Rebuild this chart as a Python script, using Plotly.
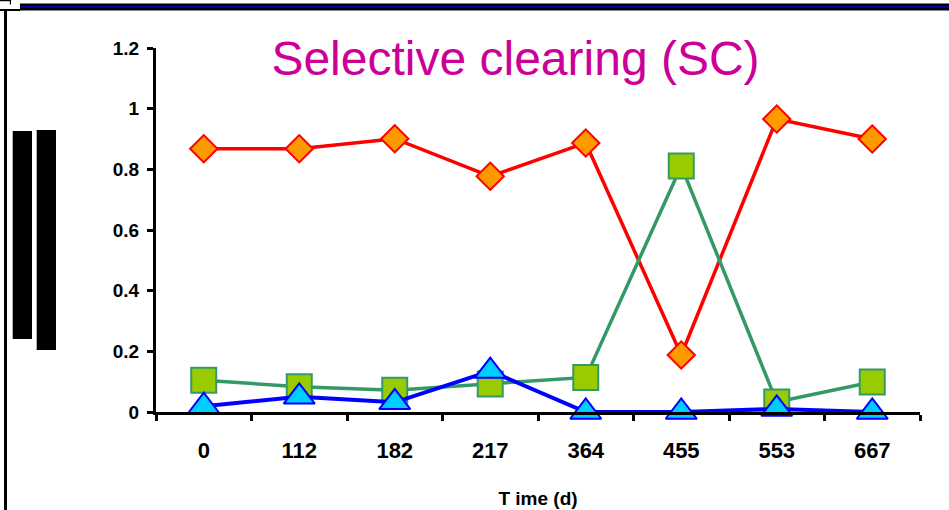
import plotly.graph_objects as go

# ---- data ----
categories = ["0", "112", "182", "217", "364", "455", "553", "667"]
series_red = [0.868, 0.868, 0.901, 0.777, 0.887, 0.188, 0.966, 0.900]
series_green = [0.105, 0.083, 0.072, 0.092, 0.114, 0.811, 0.033, 0.099]
series_blue = [0.019, 0.050, 0.032, 0.135, 0.0, 0.0, 0.010, 0.0]
y_ticks = [0, 0.2, 0.4, 0.6, 0.8, 1, 1.2]
title_text = "Selective clearing (SC)"
x_title = "T ime (d)"

W, H = 949, 510
ML, MR, MT, MB = 156, 29, 48, 98
PW, PH = W - ML - MR, H - MT - MB


def px(x):
    return (x - ML) / PW


def py(y):
    return (H - MB - y) / PH


fig = go.Figure()
fig.add_trace(go.Scatter(
    x=categories, y=series_red, mode="lines+markers", cliponaxis=False,
    line=dict(color="#FF0000", width=3.5),
    marker=dict(symbol="diamond", size=21, color="#FF9900",
                line=dict(color="#FF0000", width=2)),
    showlegend=False))
fig.add_trace(go.Scatter(
    x=categories, y=series_green, mode="lines+markers", cliponaxis=False,
    line=dict(color="#339966", width=3.5),
    marker=dict(symbol="square", size=25, color="#99CC00",
                line=dict(color="#339966", width=2)),
    showlegend=False))
fig.add_trace(go.Scatter(
    x=categories, y=series_blue, mode="lines+markers", cliponaxis=False,
    line=dict(color="#0000FF", width=4),
    marker=dict(symbol="triangle-up", size=27, color="#00CCFF",
                line=dict(color="#0000FF", width=2)),
    showlegend=False))

shapes = []
# frame pieces
shapes.append(dict(type="rect", xref="paper", yref="paper",
                   x0=px(20), x1=px(949), y0=py(3.5), y1=py(10.5),
                   fillcolor="black", line=dict(width=0), layer="above"))
shapes.append(dict(type="rect", xref="paper", yref="paper",
                   x0=px(21), x1=px(949), y0=py(5.5), y1=py(8),
                   fillcolor="#0000AA", line=dict(width=0), layer="above"))
shapes.append(dict(type="rect", xref="paper", yref="paper",
                   x0=px(0), x1=px(20), y0=py(9), y1=py(11),
                   fillcolor="black", line=dict(width=0), layer="above"))
shapes.append(dict(type="rect", xref="paper", yref="paper",
                   x0=px(4), x1=px(7), y0=py(10), y1=py(510),
                   fillcolor="black", line=dict(width=0), layer="above"))
shapes.append(dict(type="rect", xref="paper", yref="paper",
                   x0=px(0), x1=px(10), y0=py(0), y1=py(1.2),
                   fillcolor="black", line=dict(width=0), layer="above"))
shapes.append(dict(type="rect", xref="paper", yref="paper",
                   x0=px(9.8), x1=px(11), y0=py(0), y1=py(4.5),
                   fillcolor="black", line=dict(width=0), layer="above"))
# black blocks at left (obscured y-axis label)
shapes.append(dict(type="rect", xref="paper", yref="paper",
                   x0=px(12.7), x1=px(32), y0=py(131), y1=py(339),
                   fillcolor="black", line=dict(width=0), layer="above"))
shapes.append(dict(type="rect", xref="paper", yref="paper",
                   x0=px(36.7), x1=px(56), y0=py(130), y1=py(350),
                   fillcolor="black", line=dict(width=0), layer="above"))

fig.update_layout(
    width=W, height=H,
    margin=dict(l=ML, r=MR, t=MT, b=MB, autoexpand=False),
    paper_bgcolor="white", plot_bgcolor="white",
    font=dict(family="Liberation Sans, Arial, sans-serif", color="black"),
    title=dict(text=title_text, xref="paper", yref="paper",
               x=px(515.5), y=py(58), xanchor="center", yanchor="middle",
               font=dict(size=48, color="#CC0099",
                         family="Liberation Sans, Arial, sans-serif")),
    shapes=shapes,
    xaxis=dict(
        type="category", range=[-0.5, 7.5], automargin=False,
        showgrid=False, zeroline=False,
        showline=True, linecolor="black", linewidth=3,
        ticks="outside", ticklen=6, tickwidth=3, tickcolor="black",
        tickson="boundaries",
        ticklabelstandoff=17,
        tickfont=dict(size=22, family="Liberation Sans, Arial, sans-serif",
                      weight="bold", color="black"),
        title=dict(text=x_title, standoff=30,
                   font=dict(size=19, family="Liberation Sans, Arial, sans-serif",
                             weight="bold", color="black")),
    ),
    yaxis=dict(
        range=[0, 1.2], tickvals=y_ticks, automargin=False,
        showgrid=False, zeroline=False,
        showline=True, linecolor="black", linewidth=3,
        ticks="outside", ticklen=6, tickwidth=3, tickcolor="black",
        ticklabelstandoff=4,
        tickfont=dict(size=19, family="Liberation Sans, Arial, sans-serif",
                      weight="bold", color="black"),
    ),
)

fig.write_html("out.html", config={"displayModeBar": False},
               post_script="document.body.style.margin='0px';document.body.style.overflow='hidden';")
